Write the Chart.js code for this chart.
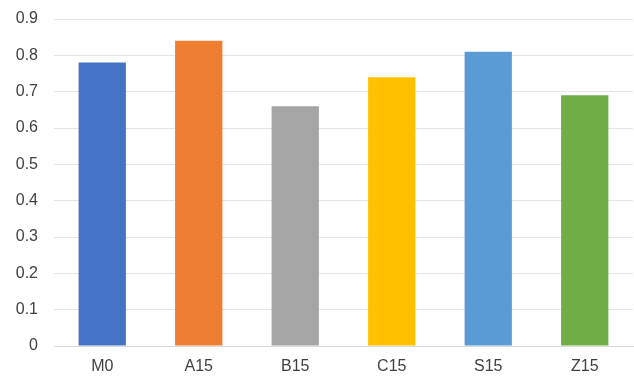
<!DOCTYPE html>
<html>
<head>
<meta charset="utf-8">
<script src="https://cdn.jsdelivr.net/npm/chart.js@4"></script>
<style>
  html, body { margin: 0; padding: 0; background: #fff; }
  #wrap { width: 634px; height: 377px; }
</style>
</head>
<body>
<div id="wrap"><canvas id="grafico"></canvas></div>
<script>
// Categorías y valores
const categorias = ['M0', 'A15', 'B15', 'C15', 'S15', 'Z15'];
const valores = [0.78, 0.84, 0.66, 0.74, 0.81, 0.69];
const colores = ['#4472C4', '#ED7D31', '#A5A5A5', '#FFC000', '#5B9BD5', '#70AD47'];

const fuente = { family: 'Liberation Sans, Arial, sans-serif', size: 16 };

const ctx = document.getElementById('grafico').getContext('2d');
const grafico = new Chart(ctx, {
    type: 'bar',
    data: {
        labels: categorias,
        datasets: [{
            data: valores,
            backgroundColor: colores,
            borderWidth: 0,
            barPercentage: 0.49,
            categoryPercentage: 1
        }]
    },
    options: {
        responsive: true,
        maintainAspectRatio: false,
        animation: false,
        layout: { padding: { top: 19, right: 1, bottom: 0, left: 0 } },
        plugins: {
            legend: { display: false },
            tooltip: { enabled: false }
        },
        scales: {
            x: {
                afterFit: s => { s.height = 31; },
                grid: { display: false, drawTicks: false },
                border: { display: true, color: '#d9d9d9', width: 1 },
                ticks: {
                    color: '#404040',
                    font: fuente,
                    padding: 11
                }
            },
            y: {
                min: 0,
                max: 0.9,
                afterFit: s => { s.width = 54; s.paddingTop = 0; },
                grid: { color: '#e3e3e3', drawTicks: false },
                border: { display: false },
                ticks: {
                    stepSize: 0.1,
                    color: '#404040',
                    font: fuente,
                    padding: 16,
                    callback: v => Math.round(v * 10) / 10
                }
            }
        }
    }
});
</script>
</body>
</html>
